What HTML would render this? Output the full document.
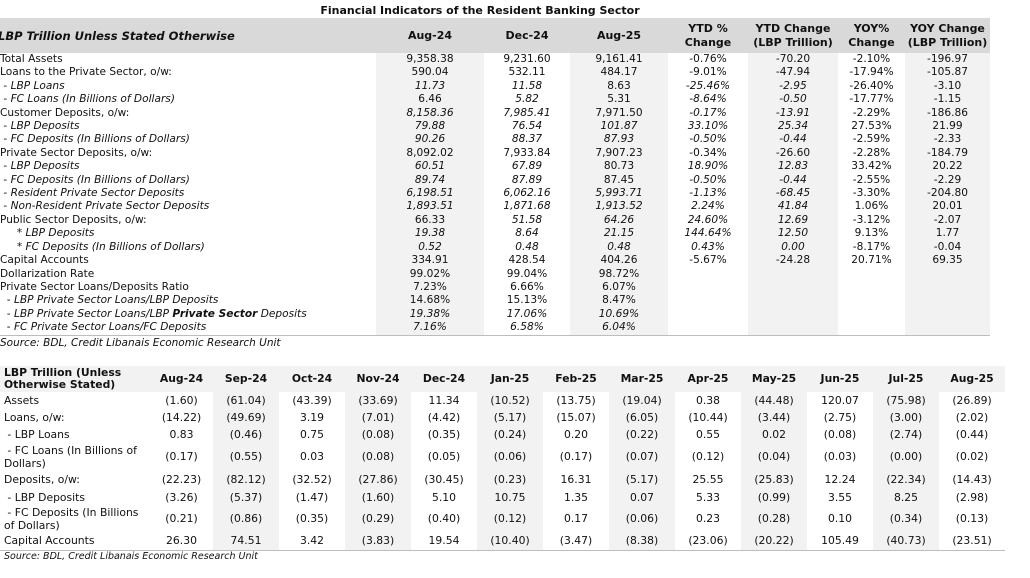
<!DOCTYPE html>
<html><head><meta charset="utf-8">
<style>
*{margin:0;padding:0;box-sizing:border-box}
body{width:1030px;height:578px;background:#fff;position:relative;overflow:hidden;font-family:"DejaVu Sans","Liberation Sans",sans-serif;color:#111}
.title{position:absolute;left:0;width:960px;top:4px;text-align:center;font-weight:bold;font-size:11px}
table{border-collapse:collapse;table-layout:fixed;position:absolute}
td{padding:0;white-space:nowrap;overflow:visible}
#top{left:0;top:18px;width:990px;font-size:10.6px}
#top thead td{background:#d9d9d9;height:35px;font-weight:bold;text-align:center;line-height:14px;font-size:11px}
#top tbody td{height:13.4px;line-height:13.4px;text-align:center}
#top tbody td:first-child{text-align:left}
#top .g{background:#f2f2f2}
#top tbody tr:last-child td{border-bottom:1px solid #bdbdbd}
i{font-style:italic}
.src{position:absolute;font-style:italic}
#bot{left:0;top:366px;width:1005px;font-size:10.8px}
#bot thead td{background:#f2f2f2;height:26px;font-weight:bold;text-align:center;line-height:12px}
#bot tbody td{text-align:center;line-height:12px}
#bot tbody td:first-child{text-align:left;padding-left:4px}
#bot .g{background:#f2f2f2}
#bot tbody tr:last-child td{border-bottom:1px solid #bdbdbd}
</style></head><body>
<div class="title">Financial Indicators of the Resident Banking Sector</div>
<table id="top">
<colgroup><col style="width:376px"><col style="width:108px"><col style="width:86px"><col style="width:98px"><col style="width:80px"><col style="width:90px"><col style="width:67px"><col style="width:85px"></colgroup>
<thead><tr><td style="text-align:left;font-style:italic;font-size:11.5px;padding-left:0;text-indent:-2px">LBP Trillion Unless Stated Otherwise</td><td>Aug-24</td><td>Dec-24</td><td>Aug-25</td><td>YTD %<br>Change</td><td>YTD Change<br>(LBP Trillion)</td><td>YOY%<br>Change</td><td>YOY Change<br>(LBP Trillion)</td></tr></thead>
<tbody>
<tr><td>Total Assets</td><td class="g">9,358.38</td><td>9,231.60</td><td class="g">9,161.41</td><td>-0.76%</td><td class="g">-70.20</td><td>-2.10%</td><td class="g">-196.97</td></tr>
<tr><td>Loans to the Private Sector, o/w:</td><td class="g">590.04</td><td>532.11</td><td class="g">484.17</td><td>-9.01%</td><td class="g">-47.94</td><td>-17.94%</td><td class="g">-105.87</td></tr>
<tr><td>&nbsp;- <i>LBP Loans</i></td><td class="g"><i>11.73</i></td><td><i>11.58</i></td><td class="g">8.63</td><td><i>-25.46%</i></td><td class="g"><i>-2.95</i></td><td>-26.40%</td><td class="g">-3.10</td></tr>
<tr><td>&nbsp;- <i>FC Loans (In Billions of Dollars)</i></td><td class="g">6.46</td><td><i>5.82</i></td><td class="g">5.31</td><td><i>-8.64%</i></td><td class="g"><i>-0.50</i></td><td>-17.77%</td><td class="g">-1.15</td></tr>
<tr><td>Customer Deposits, o/w:</td><td class="g"><i>8,158.36</i></td><td><i>7,985.41</i></td><td class="g">7,971.50</td><td><i>-0.17%</i></td><td class="g"><i>-13.91</i></td><td>-2.29%</td><td class="g">-186.86</td></tr>
<tr><td>&nbsp;- <i>LBP Deposits</i></td><td class="g"><i>79.88</i></td><td><i>76.54</i></td><td class="g"><i>101.87</i></td><td><i>33.10%</i></td><td class="g"><i>25.34</i></td><td>27.53%</td><td class="g">21.99</td></tr>
<tr><td>&nbsp;- <i>FC Deposits (In Billions of Dollars)</i></td><td class="g"><i>90.26</i></td><td><i>88.37</i></td><td class="g"><i>87.93</i></td><td><i>-0.50%</i></td><td class="g"><i>-0.44</i></td><td>-2.59%</td><td class="g">-2.33</td></tr>
<tr><td>Private Sector Deposits, o/w:</td><td class="g">8,092.02</td><td>7,933.84</td><td class="g">7,907.23</td><td>-0.34%</td><td class="g">-26.60</td><td>-2.28%</td><td class="g">-184.79</td></tr>
<tr><td>&nbsp;- <i>LBP Deposits</i></td><td class="g"><i>60.51</i></td><td><i>67.89</i></td><td class="g">80.73</td><td><i>18.90%</i></td><td class="g"><i>12.83</i></td><td>33.42%</td><td class="g">20.22</td></tr>
<tr><td>&nbsp;- <i>FC Deposits (In Billions of Dollars)</i></td><td class="g"><i>89.74</i></td><td><i>87.89</i></td><td class="g">87.45</td><td><i>-0.50%</i></td><td class="g"><i>-0.44</i></td><td>-2.55%</td><td class="g">-2.29</td></tr>
<tr><td>&nbsp;- <i>Resident Private Sector Deposits</i></td><td class="g"><i>6,198.51</i></td><td><i>6,062.16</i></td><td class="g"><i>5,993.71</i></td><td><i>-1.13%</i></td><td class="g"><i>-68.45</i></td><td>-3.30%</td><td class="g">-204.80</td></tr>
<tr><td>&nbsp;- <i>Non-Resident Private Sector Deposits</i></td><td class="g"><i>1,893.51</i></td><td><i>1,871.68</i></td><td class="g"><i>1,913.52</i></td><td><i>2.24%</i></td><td class="g"><i>41.84</i></td><td>1.06%</td><td class="g">20.01</td></tr>
<tr><td>Public Sector Deposits, o/w:</td><td class="g">66.33</td><td><i>51.58</i></td><td class="g"><i>64.26</i></td><td><i>24.60%</i></td><td class="g"><i>12.69</i></td><td>-3.12%</td><td class="g">-2.07</td></tr>
<tr><td>&nbsp; &nbsp; &nbsp;<i>* LBP Deposits</i></td><td class="g"><i>19.38</i></td><td><i>8.64</i></td><td class="g"><i>21.15</i></td><td><i>144.64%</i></td><td class="g"><i>12.50</i></td><td>9.13%</td><td class="g">1.77</td></tr>
<tr><td>&nbsp; &nbsp; &nbsp;<i>* FC Deposits (In Billions of Dollars)</i></td><td class="g"><i>0.52</i></td><td><i>0.48</i></td><td class="g"><i>0.48</i></td><td><i>0.43%</i></td><td class="g"><i>0.00</i></td><td>-8.17%</td><td class="g">-0.04</td></tr>
<tr><td>Capital Accounts</td><td class="g">334.91</td><td>428.54</td><td class="g">404.26</td><td>-5.67%</td><td class="g">-24.28</td><td>20.71%</td><td class="g">69.35</td></tr>
<tr><td>Dollarization Rate</td><td class="g">99.02%</td><td>99.04%</td><td class="g">98.72%</td><td></td><td class="g"></td><td></td><td class="g"></td></tr>
<tr><td>Private Sector Loans/Deposits Ratio</td><td class="g">7.23%</td><td>6.66%</td><td class="g">6.07%</td><td></td><td class="g"></td><td></td><td class="g"></td></tr>
<tr><td>&nbsp; - <i>LBP Private Sector Loans/LBP Deposits</i></td><td class="g">14.68%</td><td>15.13%</td><td class="g">8.47%</td><td></td><td class="g"></td><td></td><td class="g"></td></tr>
<tr><td>&nbsp; - <i>LBP Private Sector Loans/LBP <b>Private Sector</b> Deposits</i></td><td class="g"><i>19.38%</i></td><td><i>17.06%</i></td><td class="g"><i>10.69%</i></td><td></td><td class="g"></td><td></td><td class="g"></td></tr>
<tr><td>&nbsp; - <i>FC Private Sector Loans/FC Deposits</i></td><td class="g"><i>7.16%</i></td><td><i>6.58%</i></td><td class="g"><i>6.04%</i></td><td></td><td class="g"></td><td></td><td class="g"></td></tr>
</tbody></table>
<div class="src" style="left:0;top:337px;font-size:10.5px">Source: BDL, Credit Libanais Economic Research Unit</div>

<table id="bot">
<colgroup><col style="width:150px"><col style="width:63px"><col span="12" style="width:66px"></colgroup>
<thead><tr><td style="text-align:left;padding-left:4px">LBP Trillion (Unless<br>Otherwise Stated)</td><td>Aug-24</td><td>Sep-24</td><td>Oct-24</td><td>Nov-24</td><td>Dec-24</td><td>Jan-25</td><td>Feb-25</td><td>Mar-25</td><td>Apr-25</td><td>May-25</td><td>Jun-25</td><td>Jul-25</td><td>Aug-25</td></tr></thead>
<tbody>
<tr style="height:17px"><td>Assets</td><td>(1.60)</td><td class="g">(61.04)</td><td>(43.39)</td><td class="g">(33.69)</td><td>11.34</td><td class="g">(10.52)</td><td>(13.75)</td><td class="g">(19.04)</td><td>0.38</td><td class="g">(44.48)</td><td>120.07</td><td class="g">(75.98)</td><td>(26.89)</td></tr>
<tr style="height:17px"><td>Loans, o/w:</td><td>(14.22)</td><td class="g">(49.69)</td><td>3.19</td><td class="g">(7.01)</td><td>(4.42)</td><td class="g">(5.17)</td><td>(15.07)</td><td class="g">(6.05)</td><td>(10.44)</td><td class="g">(3.44)</td><td>(2.75)</td><td class="g">(3.00)</td><td>(2.02)</td></tr>
<tr style="height:18px"><td>&nbsp;- LBP Loans</td><td>0.83</td><td class="g">(0.46)</td><td>0.75</td><td class="g">(0.08)</td><td>(0.35)</td><td class="g">(0.24)</td><td>0.20</td><td class="g">(0.22)</td><td>0.55</td><td class="g">0.02</td><td>(0.08)</td><td class="g">(2.74)</td><td>(0.44)</td></tr>
<tr style="height:26px"><td style="line-height:13px">&nbsp;- FC Loans (In Billions of<br>Dollars)</td><td>(0.17)</td><td class="g">(0.55)</td><td>0.03</td><td class="g">(0.08)</td><td>(0.05)</td><td class="g">(0.06)</td><td>(0.17)</td><td class="g">(0.07)</td><td>(0.12)</td><td class="g">(0.04)</td><td>(0.03)</td><td class="g">(0.00)</td><td>(0.02)</td></tr>
<tr style="height:19px"><td>Deposits, o/w:</td><td>(22.23)</td><td class="g">(82.12)</td><td>(32.52)</td><td class="g">(27.86)</td><td>(30.45)</td><td class="g">(0.23)</td><td>16.31</td><td class="g">(5.17)</td><td>25.55</td><td class="g">(25.83)</td><td>12.24</td><td class="g">(22.34)</td><td>(14.43)</td></tr>
<tr style="height:17px"><td>&nbsp;- LBP Deposits</td><td>(3.26)</td><td class="g">(5.37)</td><td>(1.47)</td><td class="g">(1.60)</td><td>5.10</td><td class="g">10.75</td><td>1.35</td><td class="g">0.07</td><td>5.33</td><td class="g">(0.99)</td><td>3.55</td><td class="g">8.25</td><td>(2.98)</td></tr>
<tr style="height:25px"><td style="line-height:13px">&nbsp;- FC Deposits (In Billions<br>of Dollars)</td><td>(0.21)</td><td class="g">(0.86)</td><td>(0.35)</td><td class="g">(0.29)</td><td>(0.40)</td><td class="g">(0.12)</td><td>0.17</td><td class="g">(0.06)</td><td>0.23</td><td class="g">(0.28)</td><td>0.10</td><td class="g">(0.34)</td><td>(0.13)</td></tr>
<tr style="height:18px"><td>Capital Accounts</td><td>26.30</td><td class="g">74.51</td><td>3.42</td><td class="g">(3.83)</td><td>19.54</td><td class="g">(10.40)</td><td>(3.47)</td><td class="g">(8.38)</td><td>(23.06)</td><td class="g">(20.22)</td><td>105.49</td><td class="g">(40.73)</td><td>(23.51)</td></tr>
</tbody></table>
<div class="src" style="left:4px;top:551px;font-size:9.5px">Source: BDL, Credit Libanais Economic Research Unit</div>
</body></html>
